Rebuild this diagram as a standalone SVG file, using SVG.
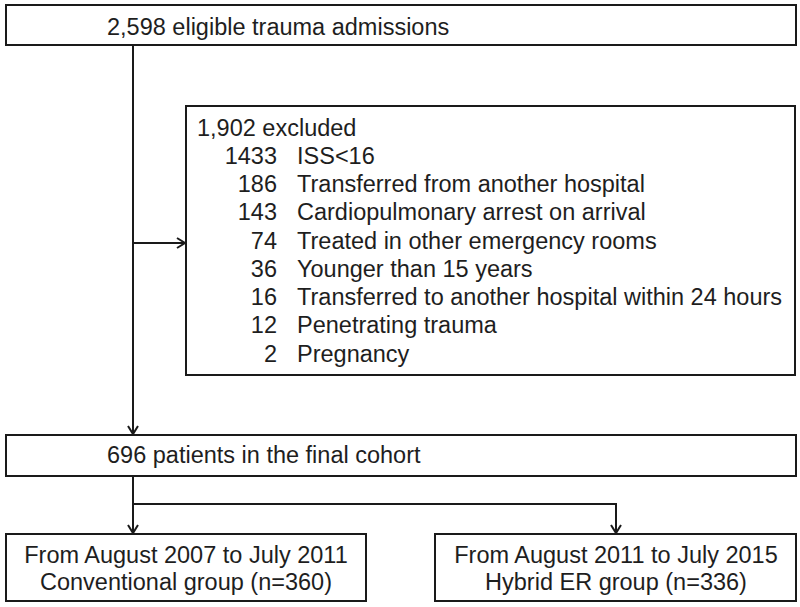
<svg xmlns="http://www.w3.org/2000/svg" width="800" height="607" viewBox="0 0 800 607">
<style>
.box{fill:#fff;stroke:#1a1a1a;stroke-width:2}
.t{font-family:"Liberation Sans",Arial,sans-serif;font-size:23.5px;fill:#1e1e1e}
.n{text-anchor:end}
.c{text-anchor:middle}
.ln{fill:none;stroke:#1a1a1a;stroke-width:2}
</style>
<defs>
<marker id="ah" markerWidth="12" markerHeight="12" refX="10" refY="6" orient="auto" markerUnits="userSpaceOnUse">
<path d="M2,1 L10,6 L2,11" fill="none" stroke="#1a1a1a" stroke-width="2"/>
</marker>
</defs>
<rect width="800" height="607" fill="#fff"/>
<g id="connectors">
<line class="ln" x1="133" y1="45" x2="133" y2="434" marker-end="url(#ah)"/>
<line class="ln" x1="133" y1="243" x2="185" y2="243" marker-end="url(#ah)"/>
<polyline class="ln" points="133,476 133,533" marker-end="url(#ah)"/>
<polyline class="ln" points="133,504 616,504 616,533" marker-end="url(#ah)"/>
</g>
<g id="n-eligible">
<rect class="box" x="6" y="5" width="790" height="40"/>
<text class="t" x="107" y="35">2,598 eligible trauma admissions</text>
</g>
<g id="n-excluded">
<rect class="box" x="186" y="106" width="609" height="269"/>
<text class="t" x="197" y="136">1,902 excluded</text>
<text class="t n" x="277" y="164">1433</text><text class="t" x="297" y="164">ISS&lt;16</text>
<text class="t n" x="277" y="192">186</text><text class="t" x="297" y="192">Transferred from another hospital</text>
<text class="t n" x="277" y="220">143</text><text class="t" x="297" y="220">Cardiopulmonary arrest on arrival</text>
<text class="t n" x="277" y="248.5">74</text><text class="t" x="297" y="248.5">Treated in other emergency rooms</text>
<text class="t n" x="277" y="277">36</text><text class="t" x="297" y="277">Younger than 15 years</text>
<text class="t n" x="277" y="305">16</text><text class="t" x="297" y="305">Transferred to another hospital within 24 hours</text>
<text class="t n" x="277" y="333">12</text><text class="t" x="297" y="333">Penetrating trauma</text>
<text class="t n" x="277" y="361.5">2</text><text class="t" x="297" y="361.5">Pregnancy</text>
</g>
<g id="n-final">
<rect class="box" x="6" y="435" width="790" height="41"/>
<text class="t" x="107" y="463">696 patients in the final cohort</text>
</g>
<g id="n-conventional">
<rect class="box" x="6" y="534" width="360" height="67"/>
<text class="t c" x="186" y="563">From August 2007 to July 2011</text>
<text class="t c" x="186" y="590">Conventional group (n=360)</text>
</g>
<g id="n-hybrid">
<rect class="box" x="435" y="534" width="361" height="67"/>
<text class="t c" x="616" y="563">From August 2011 to July 2015</text>
<text class="t c" x="616" y="590">Hybrid ER group (n=336)</text>
</g>
</svg>
